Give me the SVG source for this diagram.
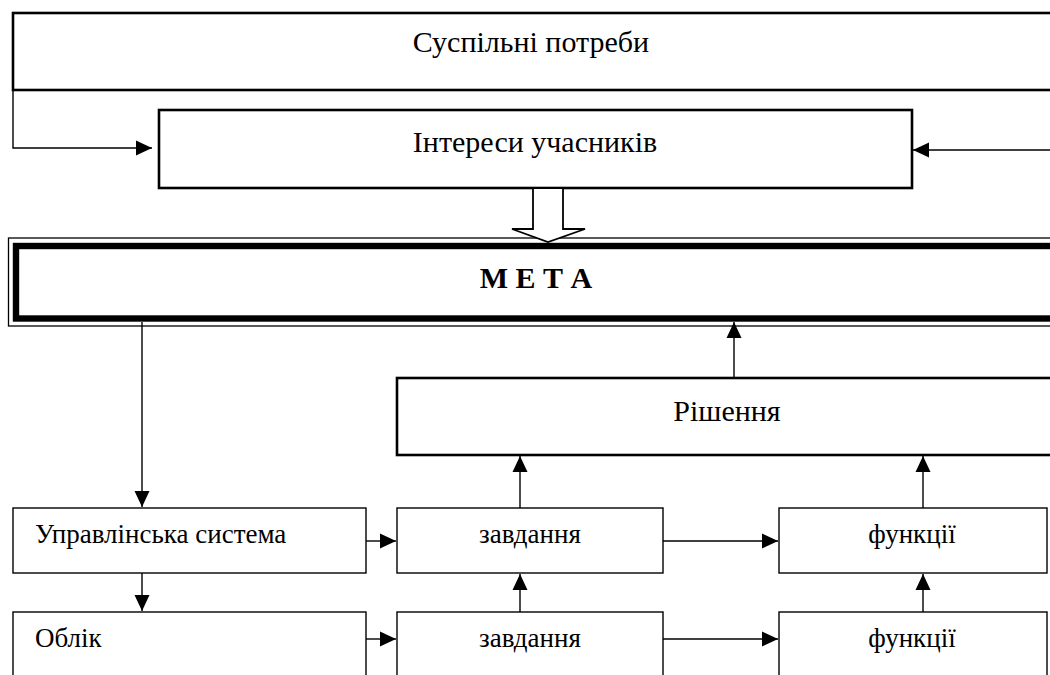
<svg xmlns="http://www.w3.org/2000/svg" width="1050" height="675" viewBox="0 0 1050 675">
  <style>
    .t { font-family: "Liberation Serif", "Times New Roman", serif; fill: #000; }
    .big { font-size: 30px; }
    .small { font-size: 27px; }
    .bold { font-size: 30px; font-weight: bold; }
    .thick { fill: #fff; stroke: #000; stroke-width: 2.6; }
    .thin { fill: #fff; stroke: #000; stroke-width: 1.4; }
    .ln { fill: none; stroke: #000; stroke-width: 1.4; }
  </style>
  <defs>
    <marker id="ah" markerUnits="userSpaceOnUse" markerWidth="16" markerHeight="16" viewBox="0 0 16 16" refX="16" refY="8" orient="auto">
      <path d="M0,0.5 L16,8 L0,15.5 z" fill="#000"/>
    </marker>
  </defs>

  <g id="node-potreby">
    <rect class="thick" x="13" y="13" width="1060" height="77"/>
    <text class="t big" x="531" y="52" text-anchor="middle">Суспільні потреби</text>
  </g>
  <g id="node-interesy">
    <rect class="thick" x="159" y="110" width="753" height="78"/>
    <text class="t big" x="535" y="152" text-anchor="middle">Інтереси учасників</text>
  </g>
  <g id="node-meta">
    <rect x="8.5" y="238" width="1080" height="88" fill="#fff" stroke="#000" stroke-width="1.3"/>
    <rect x="16" y="246" width="1080" height="72.5" fill="none" stroke="#000" stroke-width="6.4"/>
    <text class="t bold" x="536" y="288" text-anchor="middle">М Е Т А</text>
  </g>
  <g id="node-rishennia">
    <rect class="thick" x="397" y="378" width="680" height="77"/>
    <text class="t big" x="727" y="421" text-anchor="middle">Рішення</text>
  </g>
  <g id="node-upr">
    <rect class="thin" x="13" y="508" width="353" height="65"/>
    <text class="t small" x="35" y="543">Управлінська система</text>
  </g>
  <g id="node-oblik">
    <rect class="thin" x="13" y="612" width="353" height="80"/>
    <text class="t small" x="35" y="647">Облік</text>
  </g>
  <g id="node-zavd1">
    <rect class="thin" x="397" y="508" width="266" height="65"/>
    <text class="t small" x="530" y="543" text-anchor="middle">завдання</text>
  </g>
  <g id="node-zavd2">
    <rect class="thin" x="397" y="612" width="266" height="80"/>
    <text class="t small" x="530" y="647" text-anchor="middle">завдання</text>
  </g>
  <g id="node-funk1">
    <rect class="thin" x="779" y="508" width="268" height="65"/>
    <text class="t small" x="912" y="543" text-anchor="middle">функції</text>
  </g>
  <g id="node-funk2">
    <rect class="thin" x="779" y="612" width="268" height="80"/>
    <text class="t small" x="912" y="647" text-anchor="middle">функції</text>
  </g>

  <g id="connectors">
    <polyline class="ln" points="13,90 13,148 152,148" marker-end="url(#ah)"/>
    <line class="ln" x1="1050" y1="150" x2="913" y2="150" marker-end="url(#ah)"/>
    <path d="M533,189 L533,229 L512,229 L548,242 L585,229 L563,229 L563,189" fill="#fff" stroke="#000" stroke-width="1.8" stroke-linejoin="miter"/>
    <line class="ln" x1="142" y1="322" x2="142" y2="507" marker-end="url(#ah)"/>
    <line class="ln" x1="734" y1="377" x2="734" y2="322" marker-end="url(#ah)"/>
    <line class="ln" x1="520" y1="508" x2="520" y2="456" marker-end="url(#ah)"/>
    <line class="ln" x1="923" y1="508" x2="923" y2="456" marker-end="url(#ah)"/>
    <line class="ln" x1="366" y1="541" x2="396" y2="541" marker-end="url(#ah)"/>
    <line class="ln" x1="663" y1="541" x2="778" y2="541" marker-end="url(#ah)"/>
    <line class="ln" x1="142" y1="573" x2="142" y2="611" marker-end="url(#ah)"/>
    <line class="ln" x1="366" y1="639" x2="396" y2="639" marker-end="url(#ah)"/>
    <line class="ln" x1="663" y1="639" x2="778" y2="639" marker-end="url(#ah)"/>
    <line class="ln" x1="520" y1="612" x2="520" y2="574" marker-end="url(#ah)"/>
    <line class="ln" x1="923" y1="612" x2="923" y2="574" marker-end="url(#ah)"/>
  </g>
</svg>
